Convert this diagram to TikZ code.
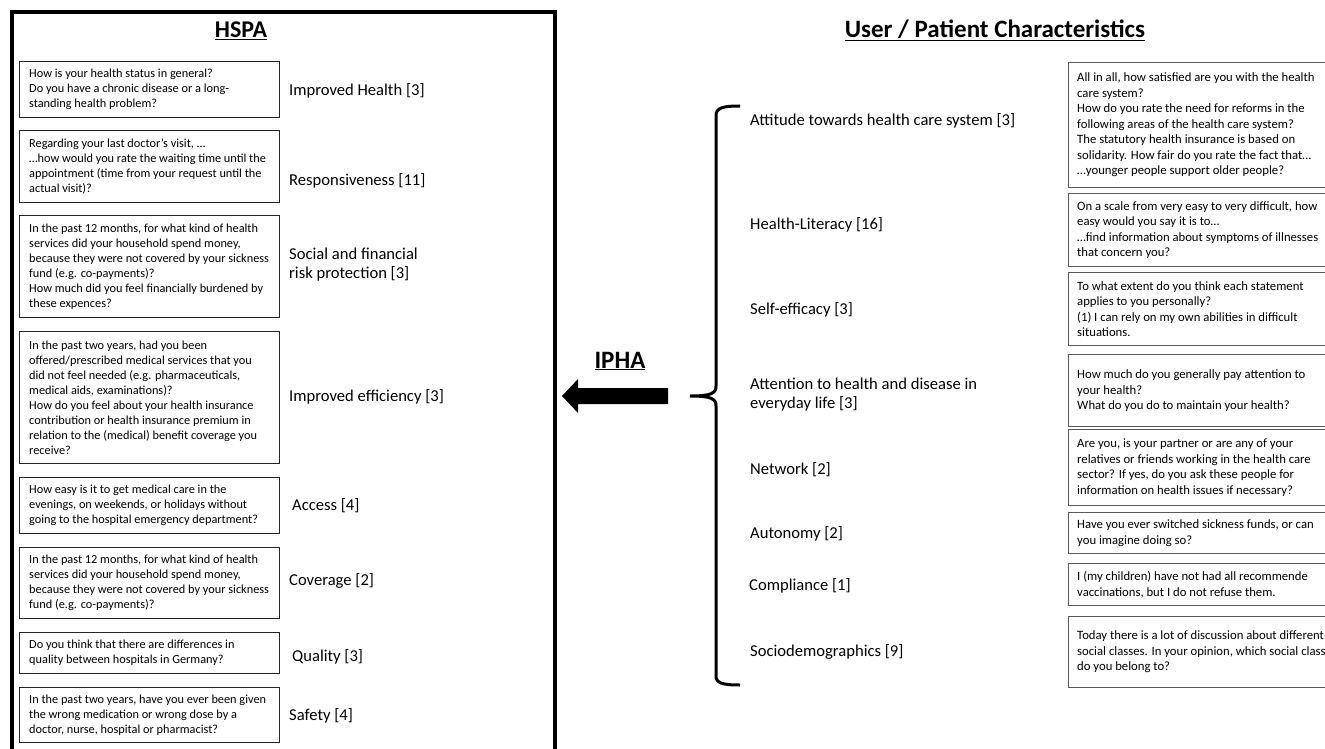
\documentclass[tikz,border=0pt]{standalone}
\usepackage{fontspec}
\setmainfont{Carlito}
\usetikzlibrary{calc}
\begin{document}
\begin{tikzpicture}[x=1pt,y=-1pt,
  qbox/.style={draw=black!85, line width=1.3pt, inner sep=0pt, anchor=north west},
  rbox/.style={draw=black!65, line width=1.3pt, inner sep=0pt, anchor=north west},
  qtext/.style={font=\fontsize{12.3}{15}\selectfont, align=left, inner sep=0pt, anchor=west},
  rtext/.style={font=\fontsize{12.7}{15.5}\selectfont, align=left, inner sep=0pt, anchor=west},
  lab/.style={font=\fontsize{16.6}{19}\selectfont, align=left, inner sep=0pt, anchor=west},
  head/.style={font=\fontsize{24}{28}\selectfont\bfseries, inner sep=0pt, anchor=base},
  thick line/.style={line width=3.5pt}]
\useasboundingbox (0,0) rectangle (1325,749);
% outer HSPA frame
\draw[thick line] (12,12) rectangle (555,770);
\node[head] (hspa) at (241,38) {\underline{HSPA}};
\node[head, font=\fontsize{25}{29}\selectfont\bfseries] (upc) at (995,38) {\underline{User / Patient Characteristics}};
\node[head, font=\fontsize{25}{29}\selectfont\bfseries] (ipha) at (620,368) {\underline{IPHA}};

% left question boxes
\node[qbox, minimum width=260, minimum height=56] (q1) at (19,61) {};
\node[qbox, minimum width=260, minimum height=72] (q2) at (19,130) {};
\node[qbox, minimum width=260, minimum height=102] (q3) at (19,215) {};
\node[qbox, minimum width=260, minimum height=132] (q4) at (19,331) {};
\node[qbox, minimum width=260, minimum height=56] (q5) at (19,477) {};
\node[qbox, minimum width=260, minimum height=71] (q6) at (19,547) {};
\node[qbox, minimum width=260, minimum height=41] (q7) at (19,632) {};
\node[qbox, minimum width=260, minimum height=55] (q8) at (19,687) {};

\node[qtext] (tq1) at ($(q1.west)+(10,0)$) {How is your health status in general?\\Do you have a chronic disease or a long-\\standing health problem?};
\node[qtext] (tq2) at ($(q2.west)+(10,0)$) {Regarding your last doctor's visit, \dots\\\dots how would you rate the waiting time until the\\appointment (time from your request until the\\actual visit)?};
\node[qtext] (tq3) at ($(q3.west)+(10,0)$) {In the past 12 months, for what kind of health\\services did your household spend money,\\because they were not covered by your sickness\\fund (e.g. co-payments)?\\How much did you feel financially burdened by\\these expences?};
\node[qtext] (tq4) at ($(q4.west)+(10,0)$) {In the past two years, had you been\\offered/prescribed medical services that you\\did not feel needed (e.g. pharmaceuticals,\\medical aids, examinations)?\\How do you feel about your health insurance\\contribution or health insurance premium in\\relation to the (medical) benefit coverage you\\receive?};
\node[qtext] (tq5) at ($(q5.west)+(10,0)$) {How easy is it to get medical care in the\\evenings, on weekends, or holidays without\\going to the hospital emergency department?};
\node[qtext] (tq6) at ($(q6.west)+(10,0)$) {In the past 12 months, for what kind of health\\services did your household spend money,\\because they were not covered by your sickness\\fund (e.g. co-payments)?};
\node[qtext] (tq7) at ($(q7.west)+(10,0)$) {Do you think that there are differences in\\quality between hospitals in Germany?};
\node[qtext] (tq8) at ($(q8.west)+(10,0)$) {In the past two years, have you ever been given\\the wrong medication or wrong dose by a\\doctor, nurse, hospital or pharmacist?};

% left labels
\node[lab] (l1) at (289,91) {Improved Health [3]};
\node[lab] (l2) at (289,181) {Responsiveness [11]};
\node[lab] (l3) at (289,265) {Social and financial\\risk protection [3]};
\node[lab] (l4) at (289,397) {Improved efficiency [3]};
\node[lab] (l5) at (292,506) {Access [4]};
\node[lab] (l6) at (289,581) {Coverage [2]};
\node[lab] (l7) at (292,657) {Quality [3]};
\node[lab] (l8) at (289,716) {Safety [4]};

% arrow
\coordinate (atip) at (562,396);
\fill (atip) -- (578,379) -- (578,388) -- (668,388) -- (668,404) -- (578,404) -- (578,413) -- cycle;

% brace
\draw[line width=3pt] (740,106) .. controls (722,106) and (716,108) .. (716,116) -- (716,386) .. controls (716,393) and (712,396) .. (690,396) .. controls (712,396) and (716,399) .. (716,406) -- (716,676) .. controls (716,683) and (722,685) .. (740,685);

% right labels
\node[lab] (r1) at (750,121) {Attitude towards health care system [3]};
\node[lab] (r2) at (750,225) {Health-Literacy [16]};
\node[lab] (r3) at (750,310) {Self-efficacy [3]};
\node[lab] (r4) at (750,395) {Attention to health and disease in\\everyday life [3]};
\node[lab] (r5) at (750,470) {Network [2]};
\node[lab] (r6) at (750,534) {Autonomy [2]};
\node[lab] (r7) at (749,586) {Compliance [1]};
\node[lab] (r8) at (750,652) {Sociodemographics [9]};

% right question boxes
\node[rbox, minimum width=275, minimum height=125] (p1) at (1068,62) {};
\node[rbox, minimum width=275, minimum height=73] (p2) at (1068,193) {};
\node[rbox, minimum width=275, minimum height=73] (p3) at (1068,272) {};
\node[rbox, minimum width=275, minimum height=72] (p4) at (1068,354) {};
\node[rbox, minimum width=275, minimum height=76] (p5) at (1068,429) {};
\node[rbox, minimum width=275, minimum height=41] (p6) at (1068,512) {};
\node[rbox, minimum width=275, minimum height=42] (p7) at (1068,563) {};
\node[rbox, minimum width=275, minimum height=71] (p8) at (1068,616) {};

\node[rtext] (tp1) at ($(p1.west)+(9,0)$) {All in all, how satisfied are you with the health\\care system?\\How do you rate the need for reforms in the\\following areas of the health care system?\\The statutory health insurance is based on\\solidarity. How fair do you rate the fact that\dots\\\dots younger people support older people?};
\node[rtext] (tp2) at ($(p2.west)+(9,0)$) {On a scale from very easy to very difficult, how\\easy would you say it is to\dots\\\dots find information about symptoms of illnesses\\that concern you?};
\node[rtext] (tp3) at ($(p3.west)+(9,0)$) {To what extent do you think each statement\\applies to you personally?\\(1) I can rely on my own abilities in difficult\\situations.};
\node[rtext] (tp4) at ($(p4.west)+(9,0)$) {How much do you generally pay attention to\\your health?\\What do you do to maintain your health?};
\node[rtext] (tp5) at ($(p5.west)+(9,0)$) {Are you, is your partner or are any of your\\relatives or friends working in the health care\\sector? If yes, do you ask these people for\\information on health issues if necessary?};
\node[rtext] (tp6) at ($(p6.west)+(9,0)$) {Have you ever switched sickness funds, or can\\you imagine doing so?};
\node[rtext] (tp7) at ($(p7.west)+(9,0)$) {I (my children) have not had all recommende\\vaccinations, but I do not refuse them.};
\node[rtext] (tp8) at ($(p8.west)+(9,0)$) {Today there is a lot of discussion about different\\social classes. In your opinion, which social class\\do you belong to?};
\end{tikzpicture}
\end{document}
